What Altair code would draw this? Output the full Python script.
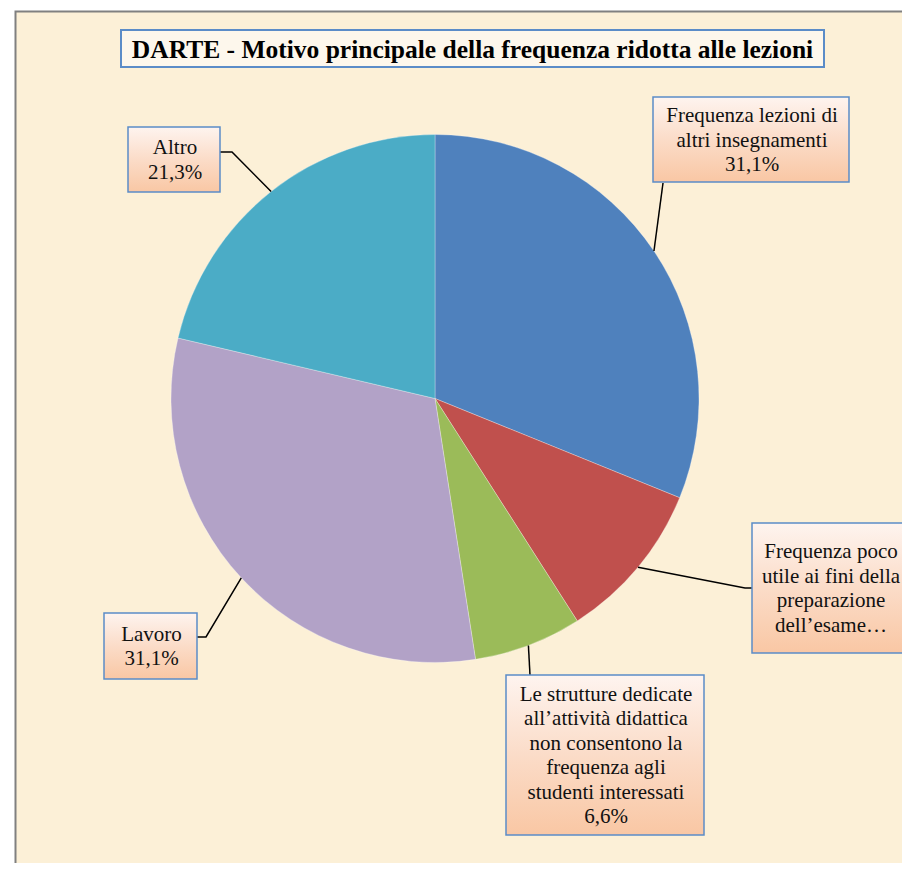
import numpy as np
import pandas as pd
import altair as alt

# ---------------- data ----------------
categories = [
    "Frequenza lezioni di altri insegnamenti",
    "Frequenza poco utile ai fini della preparazione dell'esame",
    "Le strutture dedicate all'attività didattica non consentono la frequenza agli studenti interessati",
    "Lavoro",
    "Altro",
]
values = [31.1, 9.8, 6.6, 31.1, 21.3]
colors = ["#4F81BD", "#C0504D", "#9BBB59", "#B2A2C7", "#4BACC6"]
label_lines = [
    ["Frequenza lezioni di", "altri insegnamenti"],
    ["Frequenza poco", "utile ai fini della", "preparazione", "dell\u2019esame\u2026"],
    ["Le strutture dedicate", "all\u2019attività didattica", "non consentono la",
     "frequenza agli", "studenti interessati"],
    ["Lavoro"],
    ["Altro"],
]
show_value = [True, False, True, True, True]
title = "DARTE - Motivo principale della frequenza ridotta alle lezioni"

# ---------------- layout (page pixels) ----------------
W, H = 894, 855           # chart size
OFF = 8                   # page margin
CX, CY, R = 435, 398.5, 264
LH = 24.5
SERIF = "Liberation Serif"
# label boxes: x, x2, y, y2
boxes = [
    (653, 849, 97, 182),
    (752, 908, 523, 653),
    (506, 704, 675, 835),
    (104, 197, 613, 679),
    (128, 220, 127, 192),
]
# leader line: elbow point(s) then attach point on box
leaders = [
    [(663, 183)],
    [(745, 588), (752, 588)],
    [(530, 675)],
    [(206, 637), (197, 637)],
    [(232, 152), (220, 152)],
]

xs = alt.Scale(domain=[OFF, OFF + W], range=[0, W], nice=False, zero=False)
ys = alt.Scale(domain=[OFF, OFF + H], range=[0, H], nice=False, zero=False)

pie_df = pd.DataFrame({
    "cat": categories, "value": values, "idx": list(range(len(values)))
})

# leader lines from slice mid-angle on the rim
rows = []
cum = np.cumsum([0] + values)
total = sum(values)
for i, v in enumerate(values):
    mid = (cum[i] + v / 2) / total * 2 * np.pi
    ex, ey = CX + R * np.sin(mid), CY - R * np.cos(mid)
    pts = [(ex, ey)] + leaders[i]
    for k, (px, py) in enumerate(pts):
        rows.append({"lab": i, "ord": k, "x": px, "y": py})
line_df = pd.DataFrame(rows)

brows = []
for i, b in enumerate(boxes):
    lines_i = label_lines[i] + ([f"{values[i]:.1f}%".replace(".", ",")] if show_value[i] else [])
    n = len(lines_i)
    brows.append({"x": b[0], "x2": b[1], "y": b[2], "y2": b[3],
                  "cx": (b[0] + b[1]) / 2 + 1,
                  "cy": (b[2] + b[3]) / 2 - (n - 1) * LH / 2 + 1,
                  "text": "\n".join(lines_i)})
box_df = pd.DataFrame(brows)

title_df = pd.DataFrame([{"x": 121, "x2": 824, "y": 30, "y2": 67, "cx": 472.5, "cy": 49.5, "text": title}])

bg = alt.Chart(pd.DataFrame({"a": [0]})).mark_rect(
    fill="#FCF0D7", stroke="#808080", strokeWidth=2
).encode(x=alt.value(15.5 - OFF), y=alt.value(11.5 - OFF), x2=alt.value(W + 20), y2=alt.value(H + 20))

pie = alt.Chart(pie_df).mark_arc(outerRadius=R, stroke="#FFFFFF", strokeWidth=0.3).encode(
    theta=alt.Theta("value:Q", stack=True),
    color=alt.Color("cat:N", scale=alt.Scale(domain=categories, range=colors), legend=None),
    order=alt.Order("idx:Q"),
    x=alt.value(CX - OFF), y=alt.value(CY - OFF),
)

lines = alt.Chart(line_df).mark_line(color="#000000", strokeWidth=1.5).encode(
    x=alt.X("x:Q", scale=xs, axis=None),
    y=alt.Y("y:Q", scale=ys, axis=None),
    detail="lab:N",
    order="ord:Q",
)

grad = alt.LinearGradient(
    gradient="linear", x1=0, x2=0, y1=0, y2=1,
    stops=[alt.GradientStop(color="#FEF4EF", offset=0),
           alt.GradientStop(color="#FBDCC8", offset=0.5),
           alt.GradientStop(color="#F9C7A4", offset=1)],
)
box_rect = alt.Chart(box_df).mark_rect(fill=grad, stroke="#5B8CC8", strokeWidth=1.5).encode(
    x=alt.X("x:Q", scale=xs, axis=None), x2="x2:Q",
    y=alt.Y("y:Q", scale=ys, axis=None), y2="y2:Q",
)
box_text = alt.Chart(box_df).mark_text(
    font=SERIF, fontSize=21, lineHeight=LH, lineBreak="\n",
    align="center", baseline="middle", color="#111111"
).encode(
    x=alt.X("cx:Q", scale=xs, axis=None),
    y=alt.Y("cy:Q", scale=ys, axis=None),
    text="text:N",
)

title_rect = alt.Chart(title_df).mark_rect(fill="#FDF7EC", stroke="#5B8CC8", strokeWidth=2).encode(
    x=alt.X("x:Q", scale=xs, axis=None), x2="x2:Q",
    y=alt.Y("y:Q", scale=ys, axis=None), y2="y2:Q",
)
title_text = alt.Chart(title_df).mark_text(
    font=SERIF, fontSize=25.5, fontWeight="bold",
    align="center", baseline="middle", color="#000000"
).encode(
    x=alt.X("cx:Q", scale=xs, axis=None),
    y=alt.Y("cy:Q", scale=ys, axis=None),
    text="text:N",
)

chart = alt.layer(bg, pie, lines, box_rect, box_text, title_rect, title_text).properties(
    width=W, height=H, padding=0, autosize=alt.AutoSizeParams(type="none"),
    background="#FFFFFF",
).configure_view(stroke=None)

chart.save("out.html", embed_options={"renderer": "svg", "actions": False})
